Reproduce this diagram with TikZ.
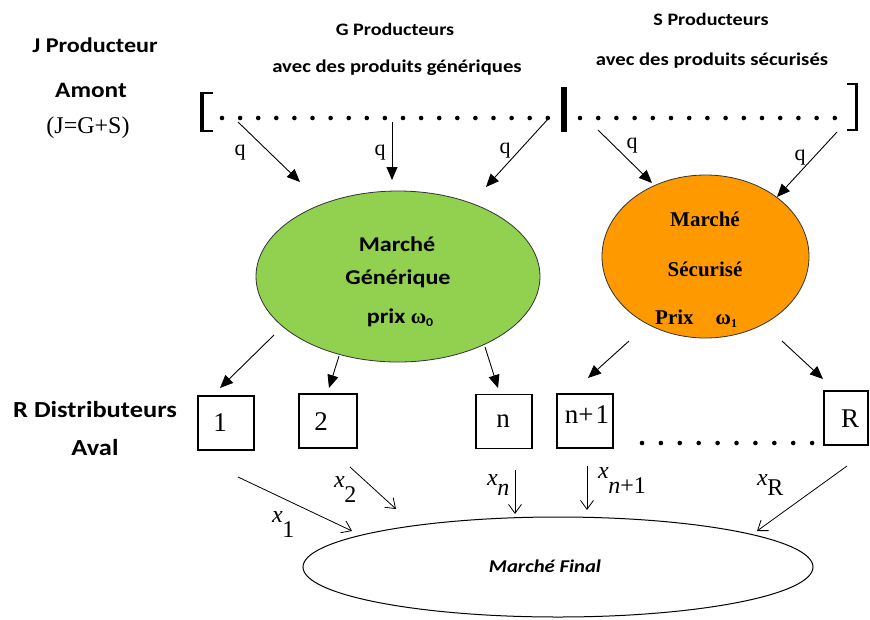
\documentclass[tikz,border=0pt]{standalone}
\usepackage{fontspec}
\setmainfont{Liberation Serif}
\newfontfamily\hd[FakeStretch=1.15]{Carlito}
\usetikzlibrary{arrows.meta,shapes.geometric}
\definecolor{gmk}{HTML}{92D050}
\definecolor{omk}{HTML}{FF9900}
\newcommand{\xlab}[2]{\textit{x}\kern-0.5pt\raisebox{-#2pt}{#1}}
\begin{document}
\begin{tikzpicture}[x=1pt,y=-1pt,
  hd/.style={font=\hd\bfseries\fontsize{#1}{#1}\selectfont,inner sep=0,anchor=base},
  sr/.style={font=\fontsize{#1}{#1}\selectfont,inner sep=0,anchor=base},
  srb/.style={font=\bfseries\fontsize{#1}{#1}\selectfont,inner sep=0,anchor=base},
  boxn/.style={draw,line width=1.4,minimum width=#1,minimum height=54,inner sep=0},
  fat/.style={line width=0.9,-{Triangle[length=13,width=11]}},
  thin/.style={line width=0.8,-{Straight Barb[length=9,width=13]}},
  mk/.style={draw=black!80,line width=0.8,ellipse,inner sep=0}]
\useasboundingbox (0,0) rectangle (870,619);

% left labels
\node[hd=21] (jp) at (95,52) {J Producteur};
\node[hd=22] (am) at (91,97) {Amont};
\node[sr=24] (jgs) at (88,133) {(J=G+S)};
\node[hd=23] (rd) at (95,417) {R Distributeurs};
\node[hd=23] (av) at (95,455) {Aval};

% top labels
\node[hd=17.5] (gp) at (395,35) {G Producteurs};
\node[hd=18] (ga) at (397,72) {avec des produits génériques};
\node[hd=17.5] (sp) at (711,25) {S Producteurs};
\node[hd=18] (sa) at (712,65) {avec des produits sécurisés};

% brackets and dots
\draw[line width=4] (202,92) -- (202,132);
\draw[line width=2] (200,93) -- (213,93) (200,131) -- (213,131);
\fill (561,87) rectangle (567,132);
\draw[line width=3] (856.5,83) -- (856.5,131);
\draw[line width=2] (847,84) -- (858,84) (847,130) -- (858,130);
\foreach \i in {0,...,18} \fill (222+\i*18.1,118) circle (2.3);
\foreach \i in {0,...,14} \fill (580+\i*18.2,118) circle (2.3);
\foreach \i in {0,...,9} \fill (642+\i*18.9,443) circle (2.3);

% markets
\node[mk,fill=gmk,minimum width=284,minimum height=171] (gm) at (398,276.5) {};
\node[hd=21] (gm1) at (397,251) {Marché};
\node[hd=21] (gm2) at (398,284) {Générique};
\node[hd=21] (gm3) at (400,323) {prix {\rmfamily ω}\raisebox{-3pt}{\fontsize{12}{12}\selectfont 0}};
\node[mk,fill=omk,minimum width=207,minimum height=163] (om) at (705.5,256.5) {};
\node[srb=21] (om1) at (705,226) {Marché};
\node[srb=21] (om2) at (705,276) {Sécurisé};
\node[srb=21,anchor=base west] (om3) at (655,324) {Prix\hspace{22pt}ω\raisebox{-3pt}{\fontsize{12}{12}\selectfont 1}};
\node[draw,line width=1,ellipse,inner sep=0,minimum width=510,minimum height=100] (fm) at (558,567) {};
\node[font=\hd\bfseries\itshape\fontsize{18}{18}\selectfont,inner sep=0,anchor=base] (fmt) at (545,572) {Marché Final};

% top arrows
\coordinate (t1) at (238,122); \coordinate (e1) at (300,182);
\coordinate (t2) at (392,122); \coordinate (e2) at (392,180);
\coordinate (t3) at (548,119); \coordinate (e3) at (486,187);
\coordinate (t4) at (598,130); \coordinate (e4) at (652,183);
\coordinate (t5) at (837,132); \coordinate (e5) at (777,197);
\draw[fat] (t1) -- (e1);
\draw[fat] (t2) -- (e2);
\draw[fat] (t3) -- (e3);
\draw[fat] (t4) -- (e4);
\draw[fat] (t5) -- (e5);
\node[sr=22] (q1) at (240,155) {q};
\node[sr=22] (q2) at (380,155) {q};
\node[sr=22] (q3) at (505,153) {q};
\node[sr=22] (q4) at (632,148) {q};
\node[sr=22] (q5) at (800,160) {q};

% boxes
\node[boxn=56] (b1) at (226,423) {};
\node[boxn=58] (b2) at (328,421) {};
\node[boxn=56] (bn) at (504,421.5) {};
\node[boxn=56] (bn1) at (585,421) {};
\node[boxn=44] (bR) at (846,418) {};
\node[sr=27] (l1) at (220,431) {1};
\node[sr=27] (l2) at (321,430) {2};
\node[sr=27] (ln) at (503,427) {n};
\node[sr=27] (ln1) at (587,423) {n+\kern2pt1};
\node[sr=27] (lR) at (850,427) {R};

% market to box arrows
\coordinate (g1) at (274,335); \coordinate (g2) at (339,356); \coordinate (g3) at (485,347);
\coordinate (o1) at (629,341); \coordinate (o2) at (782,341);
\coordinate (h1) at (220,388); \coordinate (h2) at (329,388); \coordinate (h3) at (498,388);
\coordinate (h4) at (588,378); \coordinate (h5) at (823,379);
\draw[fat] (g1) -- (h1);
\draw[fat] (g2) -- (h2);
\draw[fat] (g3) -- (h3);
\draw[fat] (o1) -- (h4);
\draw[fat] (o2) -- (h5);

% bottom arrows
\coordinate (s1) at (238,477); \coordinate (f1) at (352,531);
\coordinate (s2) at (350,467); \coordinate (f2) at (396,509);
\coordinate (s3) at (515,470); \coordinate (f3) at (515,514);
\coordinate (s4) at (587,466); \coordinate (f4) at (587,510);
\coordinate (s5) at (847,466); \coordinate (f5) at (757,531);
\draw[thin] (s1) -- (f1);
\draw[thin] (s2) -- (f2);
\draw[thin] (s3) -- (f3);
\draw[thin] (s4) -- (f4);
\draw[thin] (s5) -- (f5);
\node[sr=24,anchor=base west] (x1) at (272,522) {\xlab{1}{15}};
\node[sr=24,anchor=base west] (x2) at (334,487) {\xlab{2}{15}};
\node[sr=24,anchor=base west] (xn) at (487,485) {\xlab{\textit{n}}{10}};
\node[sr=24,anchor=base west] (xn1) at (598,478) {\xlab{\textit{n}+1}{15}};
\node[sr=24,anchor=base west] (xR) at (757,485) {\xlab{R}{10}};
\end{tikzpicture}
\end{document}
